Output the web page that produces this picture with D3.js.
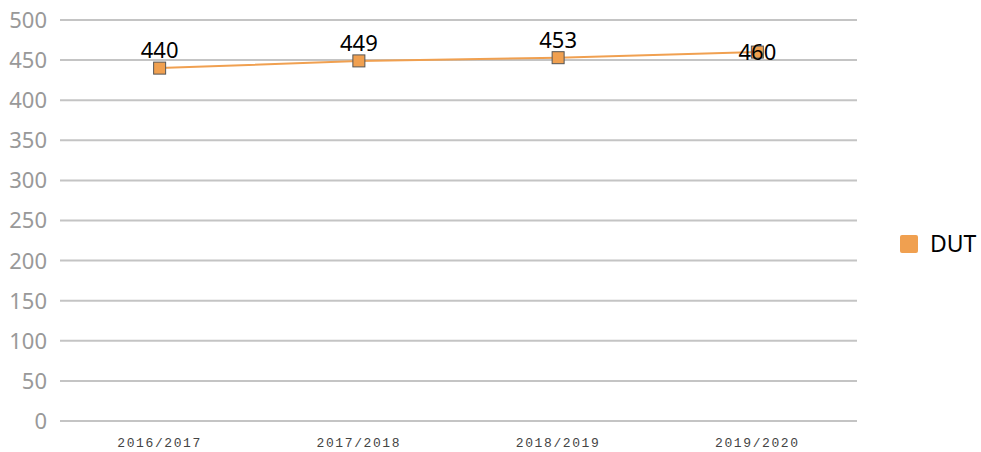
<!DOCTYPE html>
<html>
<head>
<meta charset="utf-8">
<script src="https://cdn.jsdelivr.net/npm/d3@7.9.0/dist/d3.min.js"></script>
<style>
  body { margin: 0; background: #fff; }
  svg { display: block; }
</style>
</head>
<body>
<svg id="chart" width="981" height="452"></svg>
<script>
const years = ['2016/2017', '2017/2018', '2018/2019', '2019/2020'];
const dut = [440, 449, 453, 460];
const yTicks = [0, 50, 100, 150, 200, 250, 300, 350, 400, 450, 500];
const seriesName = 'DUT';

const svg = d3.select('#chart');
const orange = '#f0a050';
const sans = 'Noto Sans, Open Sans, sans-serif';

const x = d3.scaleBand().domain(years).range([60, 857]);
const y = d3.scaleLinear().domain([0, 500]).range([421, 20]);

// grid + y labels
const yAxis = svg.append('g');
yAxis.selectAll('line')
  .data(yTicks)
  .enter()
  .append('line')
  .attr('x1', 60)
  .attr('x2', 857)
  .attr('y1', (d) => y(d))
  .attr('y2', (d) => y(d))
  .attr('stroke', '#c4c4c4')
  .attr('stroke-width', 2);

yAxis.selectAll('text')
  .data(yTicks)
  .enter()
  .append('text')
  .attr('x', 47)
  .attr('y', (d) => y(d))
  .attr('dy', '0.36em')
  .attr('text-anchor', 'end')
  .attr('font-family', sans)
  .attr('font-size', 22)
  .attr('fill', '#999')
  .text((d) => d);

// x labels
svg.append('g')
  .selectAll('text')
  .data(years)
  .enter()
  .append('text')
  .attr('x', (d) => x(d) + x.bandwidth() / 2)
  .attr('y', 447)
  .attr('text-anchor', 'middle')
  .attr('font-family', 'Liberation Mono, Courier New, monospace')
  .attr('font-size', 13)
  .attr('letter-spacing', 1.6)
  .attr('fill', '#444')
  .text((d) => d);

const pts = years.map((yr, i) => ({ yr, v: dut[i], i }));
const cx = (d) => x(d.yr) + x.bandwidth() / 2;

const line = d3.line().x(cx).y((d) => y(d.v));
svg.append('path')
  .datum(pts)
  .attr('d', line)
  .attr('fill', 'none')
  .attr('stroke', orange)
  .attr('stroke-width', 2);

svg.append('g')
  .selectAll('rect')
  .data(pts)
  .enter()
  .append('rect')
  .attr('x', (d) => cx(d) - 6)
  .attr('y', (d) => y(d.v) - 6)
  .attr('width', 12)
  .attr('height', 12)
  .attr('fill', orange)
  .attr('stroke', '#555')
  .attr('stroke-width', 1);

svg.append('g')
  .selectAll('text')
  .data(pts)
  .enter()
  .append('text')
  .attr('x', cx)
  .attr('y', (d) => (d.i === pts.length - 1 ? y(d.v) + 8 : y(d.v) - 10))
  .attr('text-anchor', 'middle')
  .attr('font-family', sans)
  .attr('font-size', 22)
  .attr('fill', '#000')
  .text((d) => d.v);

// legend
const legend = svg.append('g');
legend.append('rect')
  .attr('x', 900)
  .attr('y', 235)
  .attr('width', 18)
  .attr('height', 18)
  .attr('rx', 2)
  .attr('fill', orange);
legend.append('text')
  .attr('x', 930)
  .attr('y', 244)
  .attr('dy', '0.36em')
  .attr('font-family', sans)
  .attr('font-size', 23)
  .attr('fill', '#000')
  .text(seriesName);
</script>
</body>
</html>
